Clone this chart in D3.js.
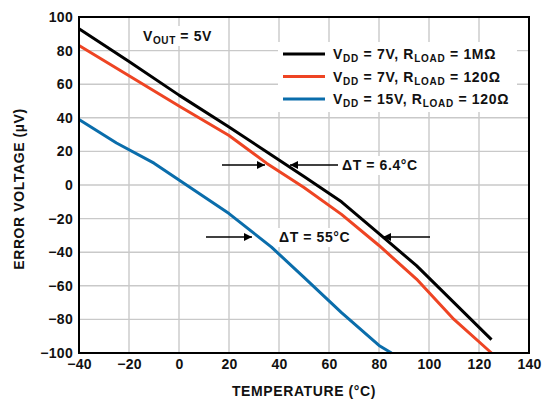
<!DOCTYPE html>
<html><head><meta charset="utf-8">
<script src="https://cdn.jsdelivr.net/npm/d3@7"></script>
<style>body{margin:0;background:#fff}svg{display:block}text{font-family:"Liberation Sans",Arial,sans-serif;font-weight:bold}</style>
</head><body><svg id="c" width="551" height="400"></svg>
<script>
const temps_black = [-40,-20,0,20,35,50,65,80,95,110,125];
const vals_black  = [93,73.5,53.5,34.5,19.8,5,-10,-29,-48,-70,-92];
const temps_red   = [-40,-20,0,20,35,50,65,80,95,110,125];
const vals_red    = [83,65,47,29.5,13,-1.5,-17.5,-36,-56,-80,-100];
const temps_blue  = [-40,-25,-10,0,20,37,50,65,80,85];
const vals_blue   = [39,25,13,3,-17,-37,-55,-76,-95.5,-100];
const xTicks = [-40,-20,0,20,40,60,80,100,120,140];
const yTicks = [-100,-80,-60,-40,-20,0,20,40,60,80,100];
const seriesNames = [["7V","1MΩ"],["7V","120Ω"],["15V","120Ω"]];
const colors = ["#000000","#ee4423","#0a6dab"];

const svg = d3.select("#c");
const x = d3.scaleLinear().domain([-40,140]).range([79,529]);
const y = d3.scaleLinear().domain([-100,100]).range([353,17]);
const fmt = v => v < 0 ? "\u2212" + Math.abs(v) : String(v);

// grid
svg.append("g").selectAll("line").data(xTicks.slice(1,-1)).join("line")
  .attr("x1",d=>x(d)).attr("x2",d=>x(d)).attr("y1",y(100)).attr("y2",y(-100))
  .attr("stroke","#c9c9c9").attr("stroke-width",1.4);
svg.append("g").selectAll("line").data(yTicks.slice(1,-1)).join("line")
  .attr("y1",d=>y(d)).attr("y2",d=>y(d)).attr("x1",x(-40)).attr("x2",x(140))
  .attr("stroke","#c9c9c9").attr("stroke-width",1.4);

// white boxes behind annotations
svg.append("rect").attr("x",278).attr("y",42).attr("width",239).attr("height",70).attr("fill","#fff");
svg.append("rect").attr("x",138).attr("y",26).attr("width",80).attr("height",20).attr("fill","#fff");
svg.append("rect").attr("x",340).attr("y",156).attr("width",82).attr("height",19).attr("fill","#fff");
svg.append("rect").attr("x",276).attr("y",228).attr("width",78).attr("height",19).attr("fill","#fff");

// lines
const line = d3.line().x(d=>x(d[0])).y(d=>y(d[1]));
const series = [
  d3.zip(temps_black, vals_black),
  d3.zip(temps_red, vals_red),
  d3.zip(temps_blue, vals_blue)
];
series.forEach((s,i)=>{
  svg.append("path").datum(s).attr("d",line).attr("fill","none")
    .attr("stroke",colors[i]).attr("stroke-width",3).attr("stroke-linejoin","round");
});

// frame
svg.append("rect").attr("x",x(-40)).attr("y",y(100)).attr("width",x(140)-x(-40)).attr("height",y(-100)-y(100))
  .attr("fill","none").attr("stroke","#000").attr("stroke-width",2);

// axes labels via d3 axes
const xa = svg.append("g").attr("transform",`translate(0,${y(-100)})`)
  .call(d3.axisBottom(x).tickValues(xTicks).tickFormat(fmt).tickSize(0).tickPadding(6));
xa.select(".domain").remove();
xa.selectAll("text").attr("font-size",14).attr("font-family","Liberation Sans, Arial").attr("font-weight","bold").attr("fill","#111").attr("letter-spacing",0.3);
const ya = svg.append("g").attr("transform",`translate(${x(-40)},0)`)
  .call(d3.axisLeft(y).tickValues(yTicks).tickFormat(fmt).tickSize(0).tickPadding(6));
ya.select(".domain").remove();
ya.selectAll("text").attr("font-size",14).attr("font-family","Liberation Sans, Arial").attr("font-weight","bold").attr("fill","#111").attr("letter-spacing",0.3);

// titles
svg.append("text").attr("x",304).attr("y",396).attr("text-anchor","middle").attr("font-size",14).attr("letter-spacing",0.6).attr("fill","#111").text("TEMPERATURE (°C)");
svg.append("text").attr("transform",`translate(24,189) rotate(-90)`).attr("text-anchor","middle").attr("font-size",14).attr("letter-spacing",0.6).attr("fill","#111").text("ERROR VOLTAGE (µV)");

// VOUT label
const vt = svg.append("text").attr("x",143).attr("y",41).attr("font-size",14).attr("letter-spacing",0.6).attr("fill","#111");
vt.append("tspan").text("V");
vt.append("tspan").attr("font-size",10).attr("dy",3).text("OUT");
vt.append("tspan").attr("dy",-3).text(" = 5V");

// legend
seriesNames.forEach((n,i)=>{
  const ly = 54 + i*22.5;
  svg.append("line").attr("x1",283).attr("x2",325).attr("y1",ly).attr("y2",ly).attr("stroke",colors[i]).attr("stroke-width",3);
  const t = svg.append("text").attr("x",333).attr("y",ly+5).attr("font-size",14).attr("letter-spacing",0.7).attr("fill","#111");
  t.append("tspan").text("V");
  t.append("tspan").attr("font-size",10).attr("dy",3).text("DD");
  t.append("tspan").attr("dy",-3).text(` = ${n[0]}, R`);
  t.append("tspan").attr("font-size",10).attr("dy",3).text("LOAD");
  t.append("tspan").attr("dy",-3).text(` = ${n[1]}`);
});

// arrows
const defs = svg.append("defs");
defs.append("marker").attr("id","ah").attr("viewBox","0 0 10 10").attr("refX",10).attr("refY",5)
  .attr("markerWidth",14).attr("markerHeight",8).attr("markerUnits","userSpaceOnUse").attr("orient","auto")
  .append("path").attr("d","M0,0L10,5L0,10Z").attr("fill","#000");
const arrows = [[222,265,165],[338,290,165],[206,252,237],[430,383,237]];
arrows.forEach(a=>{
  svg.append("line").attr("x1",a[0]).attr("x2",a[1]).attr("y1",a[2]).attr("y2",a[2])
    .attr("stroke","#000").attr("stroke-width",1.5).attr("marker-end","url(#ah)");
});
svg.append("text").attr("x",342).attr("y",170).attr("font-size",14).attr("letter-spacing",0.6).attr("fill","#111").text("ΔT = 6.4°C");
svg.append("text").attr("x",279).attr("y",242).attr("font-size",14).attr("letter-spacing",0.6).attr("fill","#111").text("ΔT = 55°C");
</script></body></html>
